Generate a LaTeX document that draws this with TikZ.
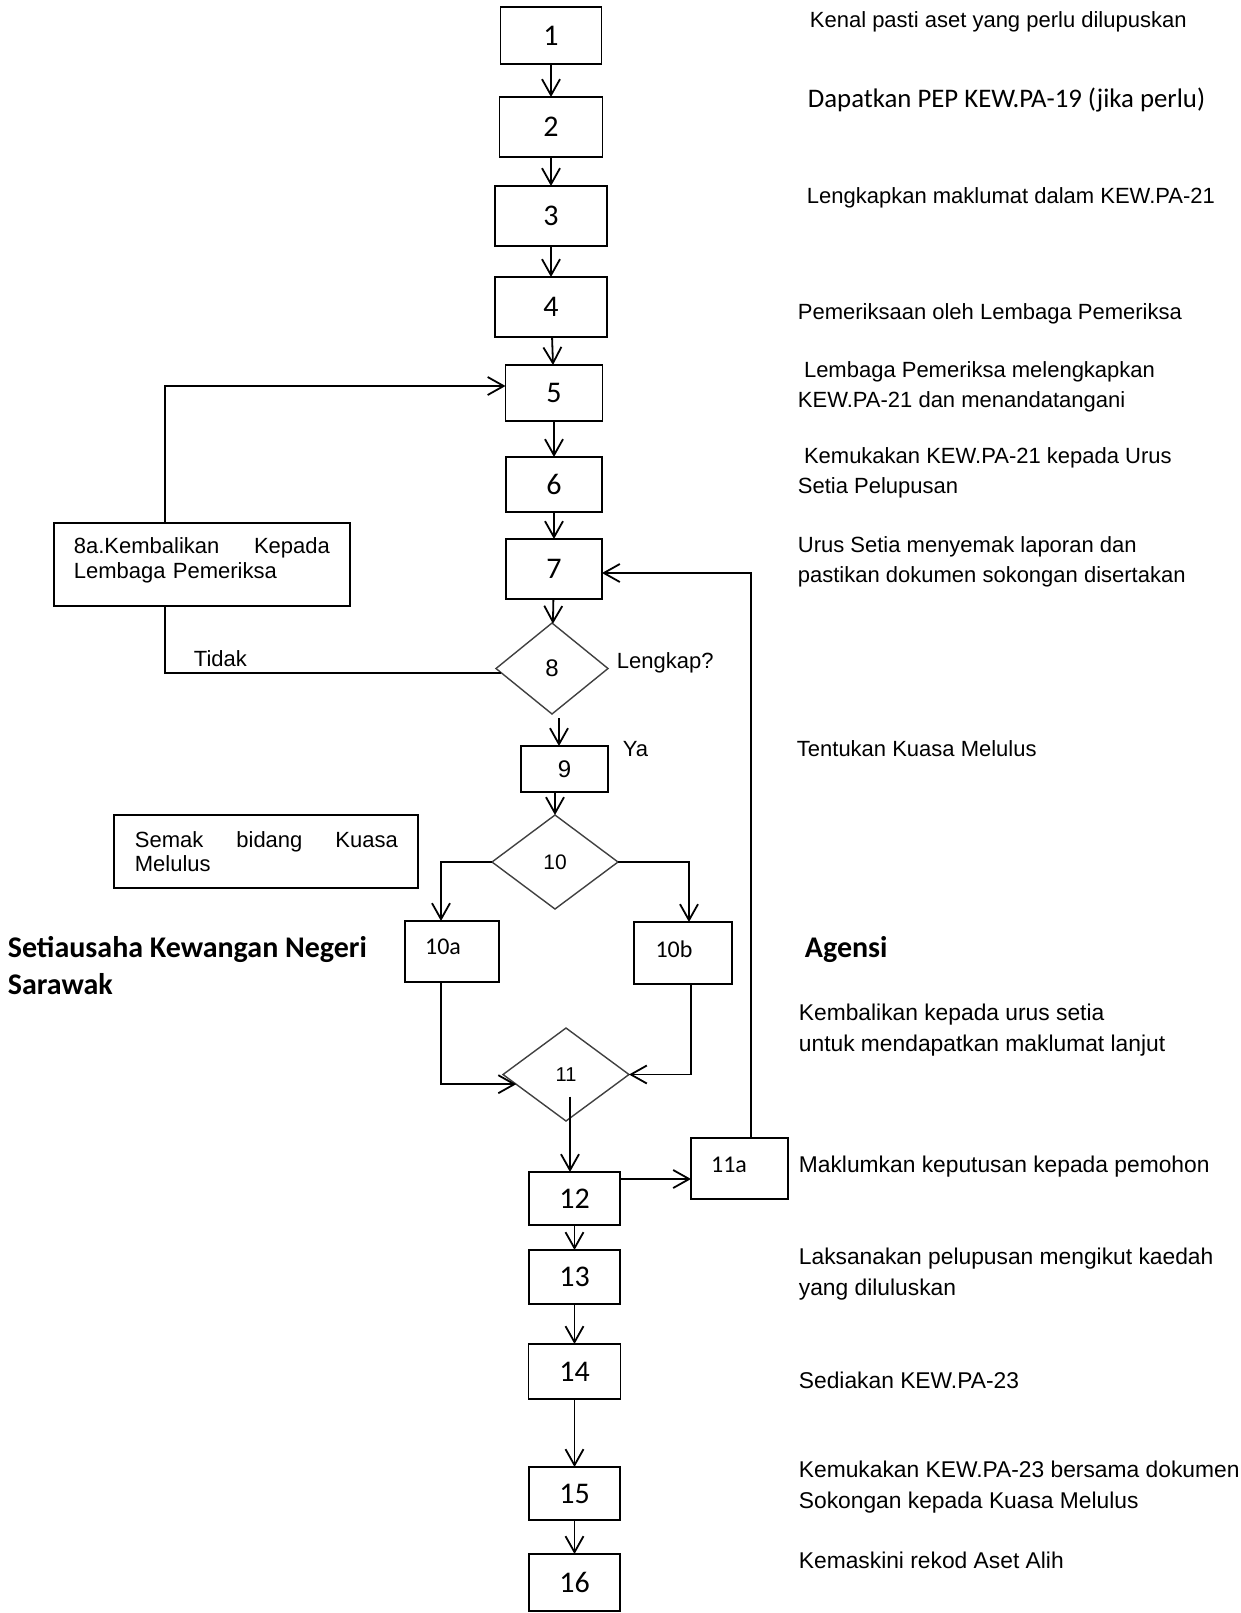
\documentclass[tikz,border=0pt]{standalone}
\usepackage{fontspec}
\setmainfont{Liberation Sans}
\newfontfamily\calibri{Carlito}
\usepackage{tikz}
\usetikzlibrary{arrows.meta, positioning, shapes.geometric}

\begin{document}
\begin{tikzpicture}[->, >={Straight Barb[length=8pt,width=9pt]}, line width=0.9pt,
                    x=0.5pt, y=-0.5pt, node distance=15pt]
  \tikzstyle{box}=[draw=black, rectangle, inner sep=0pt, outer sep=0pt,
                   font=\calibri\fontsize{15}{15}\selectfont]
  \tikzstyle{decision}=[draw=black!75, diamond, line width=0.7pt, inner sep=0pt, outer sep=0pt]
  \tikzstyle{tag}=[font=\calibri\fontsize{12}{12}\selectfont]
  \tikzstyle{desc}=[anchor=base west, align=left, inner sep=0pt, font=\fontsize{11}{15}\selectfont]
  \tikzstyle{descb}=[desc, font=\fontsize{11.4}{15.2}\selectfont]
  \tikzstyle{heading}=[anchor=base west, align=left, inner sep=0pt,
                       font=\calibri\bfseries\fontsize{15}{18.5}\selectfont]
  \tikzstyle{notetext}=[anchor=base west, align=left, inner sep=0pt, font=\fontsize{11}{12.5}\selectfont]

  \useasboundingbox (0,0) rectangle (1241,1613);

  % main column
  \node[box, minimum width=50.5pt, minimum height=28.5pt] (b1) at (551,35.5) {1};
  \node[box, minimum width=51.5pt, minimum height=30pt]   (b2) [below=16.5pt of b1] {2};
  \node[box, minimum width=56pt,   minimum height=30pt]   (b3) [below=14.5pt of b2] {3};
  \node[box, minimum width=56pt,   minimum height=30pt]   (b4) [below=15.5pt of b3] {4};
  \node[box, minimum width=48.5pt, minimum height=28pt]   (b5) [below=14pt of b4, xshift=1.5pt] {5};
  \node[box, minimum width=48pt,   minimum height=27.5pt] (b6) [below=18pt of b5]   {6};
  \node[box, minimum width=48pt,   minimum height=30pt]   (b7) [below=13.5pt of b6] {7};
  \node[decision, minimum width=56pt, minimum height=45.5pt, font=\fontsize{12}{12}\selectfont]
                                                          (d8) [below=12pt of b7, xshift=-1pt] {8};
  \node[box, minimum width=43.5pt, minimum height=23pt, font=\fontsize{12}{12}\selectfont]
                                                          (b9) [below=16pt of d8, xshift=6.25pt] {9};
  \node[decision, minimum width=63pt, minimum height=47pt, font=\fontsize{10.5}{10.5}\selectfont]
                                                          (d10) [below=11.5pt of b9, xshift=-4.75pt] {10};
  \node[box, minimum width=47pt, minimum height=30.5pt,
        label={[tag, xshift=-4.5pt, yshift=2.25pt]center:10a}] (b10a) [below=6pt of d10, xshift=-51.5pt] {};
  \node[box, minimum width=49pt, minimum height=31pt,
        label={[tag, xshift=-4.5pt, yshift=1.75pt]center:10b}] (b10b) [below=6.5pt of d10, xshift=64pt] {};
  \node[decision, minimum width=63pt, minimum height=46.5pt, font=\fontsize{10}{10}\selectfont]
                                                          (d11) [below=59.5pt of d10, xshift=5.5pt] {11};
  \node[box, minimum width=45.5pt, minimum height=26.5pt] (b12) [below=25.5pt of d11, xshift=4.25pt] {12};
  \node[box, minimum width=48.5pt, minimum height=30.5pt,
        label={[tag, xshift=-5.25pt, yshift=2pt]center:11a}] (b11a) [right=35.5pt of b12, yshift=15pt] {};
  \node[box, minimum width=45.5pt, minimum height=27pt]   (b13) [below=12.5pt of b12] {13};
  \node[box, minimum width=46pt,   minimum height=27.5pt] (b14) [below=20pt of b13]   {14};
  \node[box, minimum width=45.5pt, minimum height=26.5pt] (b15) [below=34pt of b14]   {15};
  \node[box, minimum width=45.5pt, minimum height=28.5pt] (b16) [below=17pt of b15]   {16};

  % side boxes
  \node[box, minimum width=148pt, minimum height=41.5pt] (b8a) [left=78pt of b7, yshift=2.25pt] {};
  \node[box, minimum width=152pt, minimum height=36.5pt] (semak) [left=37pt of d10, yshift=5.25pt] {};
  \node[notetext, text width=128pt] (t8a) at (73,553) {8a.Kembalikan\hfill Kepada\\Lembaga Pemeriksa};
  \node[notetext, text width=131.5pt, font=\fontsize{11}{12}\selectfont] (tsemak) at (134,847)
       {Semak\hfill bidang\hfill Kuasa\\Melulus};

  % labels
  \node[desc] (tidak)   at (193,666) {Tidak};
  \node[desc] (lengkap) at (616,668) {Lengkap?};
  \node[desc] (ya)      at (622,756) {Ya};
  \node[heading] (skn)    at (7,994)   {Setiausaha Kewangan Negeri\\Sarawak};
  \node[heading] (agensi) at (804,957) {Agensi};

  % steps
  \node[desc] (t1) at (809,27) {Kenal pasti aset yang perlu dilupuskan};
  \node[desc, font=\calibri\fontsize{13.4}{13.4}\selectfont] (t2) at (807,107) {Dapatkan PEP KEW.PA-19 (jika perlu)};
  \node[desc] (t3) at (806,203) {Lengkapkan maklumat dalam KEW.PA-21};
  \node[desc] (t4) at (797,319) {Pemeriksaan oleh Lembaga Pemeriksa};
  \node[desc] (t5) at (797,407) {\ Lembaga Pemeriksa melengkapkan\\KEW.PA-21 dan menandatangani};
  \node[desc] (t6) at (797,493) {\ Kemukakan KEW.PA-21 kepada Urus\\Setia Pelupusan};
  \node[desc] (t7) at (797,582) {Urus Setia menyemak laporan dan\\pastikan dokumen sokongan disertakan};
  \node[desc] (t9) at (796,756) {Tentukan Kuasa Melulus};
  \node[descb] (t10) at (798,1051) {Kembalikan kepada urus setia\\untuk mendapatkan maklumat lanjut};
  \node[descb] (t11) at (798,1172) {Maklumkan keputusan kepada pemohon};
  \node[descb] (t13) at (798,1295) {Laksanakan pelupusan mengikut kaedah\\yang diluluskan};
  \node[descb] (t14) at (798,1388) {Sediakan KEW.PA-23};
  \node[descb] (t15) at (798,1508) {Kemukakan KEW.PA-23 bersama dokumen\\Sokongan kepada Kuasa Melulus};
  \node[descb] (t16) at (798,1568) {Kemaskini rekod Aset Alih};

  \coordinate (s8) at ([xshift=3.5pt,yshift=-2pt]d8.south);
  \path (b1) edge (b2)
        (b2) edge (b3)
        (b3) edge (b4)
        (b4) edge (b5)
        (b5) edge (b6)
        (b6) edge (b7)
        (b7) edge (d8)
        (s8) edge (s8 |- b9.north)
        (b9.south -| d10.north) edge (d10.north)
        (b12) edge (b13)
        (b13) edge (b14)
        (b14) edge (b15)
        (b15) edge (b16);

  \draw[-] (d8.185) -| ([xshift=-18.5pt]b8a.south);
  \draw ([xshift=-18.5pt]b8a.north) |- ([yshift=3.5pt]b5.west);
  \draw (d10.west) -| ([xshift=-5.5pt]b10a.north);
  \draw (d10.east) -| ([xshift=3pt]b10b.north);
  \draw ([xshift=-5.5pt]b10a.south) |- (d11.191);
  \draw ([xshift=4pt]b10b.south) |- (d11.east);
  \coordinate (m11) at ([xshift=2pt,yshift=-11pt]d11.center);
  \draw (m11) -- (m11 |- b12.north);
  \coordinate (o12) at ([yshift=9.75pt]b12.east);
  \draw (o12) -- (o12 -| b11a.west);
  \draw ([xshift=5.75pt]b11a.north) |- ([yshift=-2pt]b7.east);
\end{tikzpicture}
\end{document}
